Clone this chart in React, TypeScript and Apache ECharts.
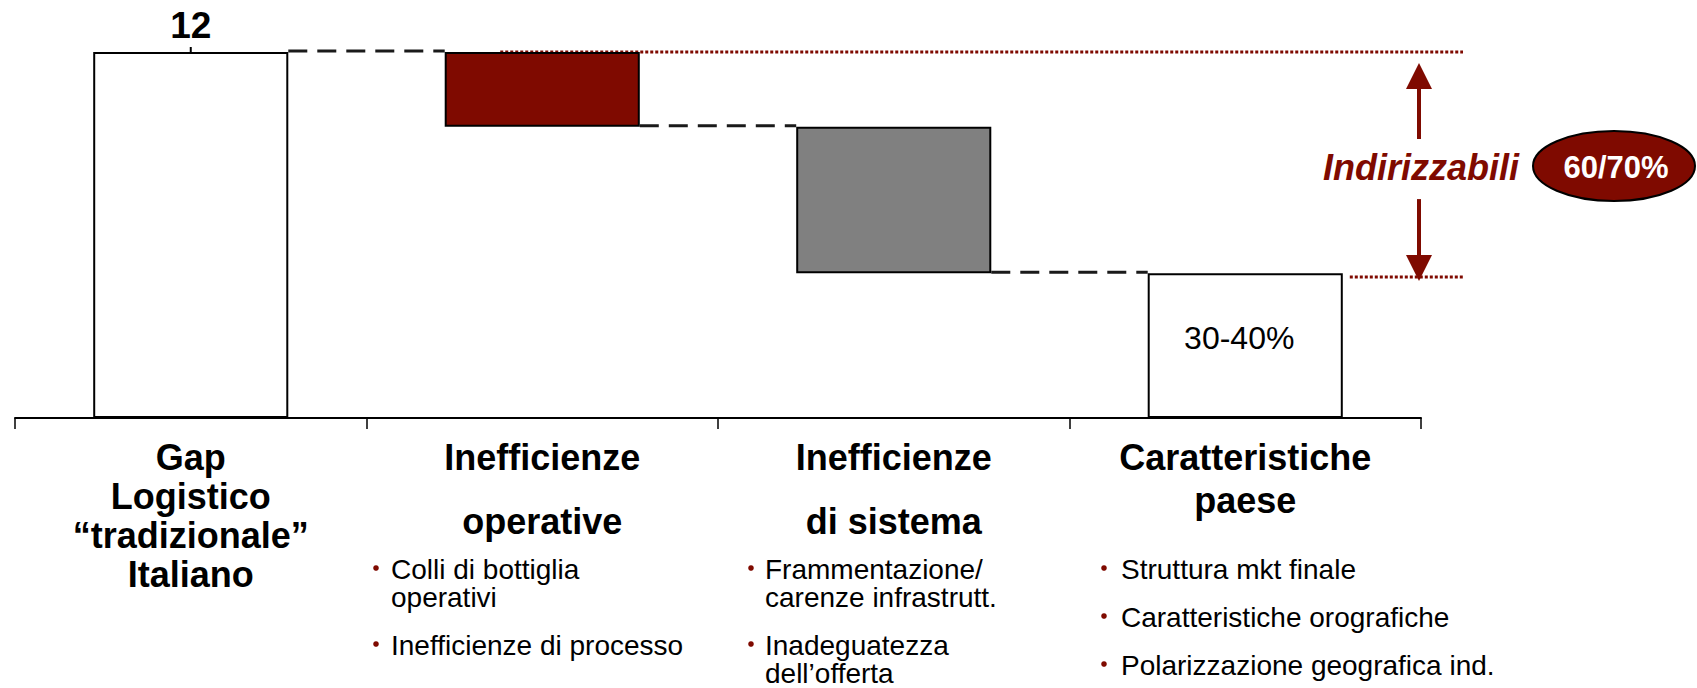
import { useEffect, useRef } from "react";
import * as echarts from "echarts";

// ---------- data ----------
const categories = [
  "Gap Logistico “tradizionale” Italiano",
  "Inefficienze operative",
  "Inefficienze di sistema",
  "Caratteristiche paese",
];
const categoryLabelLines = [
  ["Gap", "Logistico", "“tradizionale”", "Italiano"],
  ["Inefficienze", "operative"],
  ["Inefficienze", "di sistema"],
  ["Caratteristiche", "paese"],
];
const stepValues = [12, 2.45, 4.8, 4.75];
const stepKinds = ["total", "decrease", "decrease", "total"];
const totalLabel = "12";
const residualLabel = "30-40%";
const addressableLabel = "Indirizzabili";
const addressableShare = "60/70%";
const addressableBottomLevel = 4.62;
const bullets: string[][][] = [
  [],
  [["Colli di bottiglia", "operativi"], ["Inefficienze di processo"]],
  [["Frammentazione/", "carenze infrastrutt."], ["Inadeguatezza", "dell’offerta"]],
  [["Struttura mkt finale"], ["Caratteristiche orografiche"], ["Polarizzazione geografica ind."]],
];

// ---------- style / layout ----------
const DARK_RED = "#7f0a00";
const FONT = "'Liberation Sans', Arial, Helvetica, sans-serif";
const barColors = ["#ffffff", DARK_RED, "#808080", "#ffffff"];
const BAR_RATIO = 0.555;
const titleLineStyles = [
  ["t", "t", "t", "t"],
  ["t", "far"],
  ["t", "far"],
  ["t", "mid"],
];
const bulletTextX = [0, 391, 765, 1121];
const bulletDotX = [0, 376, 751, 1104];
const BULLET_TOP = 569;
const BULLET_LINE = 28;
const BULLET_GAP = 48;

// derived waterfall geometry (from data)
const bases: number[] = [];
{
  let level = 0;
  stepValues.forEach((v, i) => {
    if (stepKinds[i] === "total") {
      bases.push(0);
      level = v;
    } else {
      level = level - v;
      bases.push(level);
    }
  });
}
const connectorData = stepValues.slice(0, -1).map((v, i) => {
  const top = stepKinds[i] === "total" ? v : bases[i];
  return [i, top];
});

export default function App() {
  const ref = useRef<HTMLDivElement>(null);
  useEffect(() => {
    if (!ref.current) return;
    const chart = echarts.init(ref.current, null, { renderer: "svg" });

    const graphics: any[] = [];
    bullets.forEach((items, col) => {
      let y = BULLET_TOP;
      items.forEach((lines, k) => {
        if (k > 0) y += BULLET_GAP;
        graphics.push({
          type: "circle",
          shape: { cx: bulletDotX[col], cy: y - 1, r: 2.8 },
          style: { fill: DARK_RED },
        });
        lines.forEach((line, j) => {
          if (j > 0) y += BULLET_LINE;
          graphics.push({
            type: "text",
            style: {
              text: line,
              x: bulletTextX[col],
              y,
              font: `28px ${FONT}`,
              fill: "#000",
              align: "left",
              verticalAlign: "middle",
              textAlign: "left",
              textVerticalAlign: "middle",
            },
          });
        });
      });
    });
    graphics.push({
      type: "text",
      style: {
        text: addressableLabel,
        x: 1421,
        y: 167,
        font: `italic bold 36px ${FONT}`,
        fill: DARK_RED,
        align: "center",
        verticalAlign: "middle",
        textAlign: "center",
        textVerticalAlign: "middle",
      },
    });
    graphics.push({
      type: "ellipse",
      shape: { cx: 1614, cy: 166, rx: 81, ry: 35 },
      style: { fill: DARK_RED, stroke: "#000", lineWidth: 2 },
    });
    graphics.push({
      type: "text",
      style: {
        text: addressableShare,
        x: 1616,
        y: 167,
        font: `bold 31px ${FONT}`,
        fill: "#fff",
        align: "center",
        verticalAlign: "middle",
        textAlign: "center",
        textVerticalAlign: "middle",
      },
    });

    const option: any = {
      animation: false,
      backgroundColor: "#ffffff",
      grid: { left: 15, right: 276, top: 52, bottom: 270, containLabel: false },
      xAxis: {
        type: "category",
        data: categories,
        boundaryGap: true,
        axisLine: { lineStyle: { color: "#000", width: 2 } },
        axisTick: { show: true, length: 11, lineStyle: { color: "#000", width: 1.5 } },
        axisLabel: {
          interval: 0,
          margin: 20,
          color: "#000",
          fontFamily: FONT,
          formatter: (_v: string, idx: number) =>
            categoryLabelLines[idx]
              .map((l, j) => `{${titleLineStyles[idx][j]}|${l}}`)
              .join("\n"),
          rich: {
            t: { fontSize: 36, fontWeight: "bold", lineHeight: 39, color: "#000", fontFamily: FONT },
            far: { fontSize: 36, fontWeight: "bold", lineHeight: 89, color: "#000", fontFamily: FONT },
            mid: { fontSize: 36, fontWeight: "bold", lineHeight: 47, color: "#000", fontFamily: FONT },
          },
        },
      },
      yAxis: {
        type: "value",
        min: 0,
        max: 12,
        show: false,
        splitLine: { show: false },
      },
      series: [
        {
          type: "bar",
          stack: "w",
          silent: true,
          barWidth: `${BAR_RATIO * 100}%`,
          itemStyle: { color: "transparent", borderWidth: 0 },
          data: bases,
        },
        {
          type: "bar",
          stack: "w",
          barWidth: `${BAR_RATIO * 100}%`,
          data: stepValues.map((v, i) => {
            const item: any = {
              value: v,
              itemStyle: { color: barColors[i], borderColor: "#000", borderWidth: 2 },
            };
            if (i === 0) {
              item.label = {
                show: true,
                position: "top",
                distance: 8,
                formatter: totalLabel,
                fontSize: 37,
                fontWeight: "bold",
                color: "#000",
                fontFamily: FONT,
              };
            }
            if (i === stepValues.length - 1) {
              item.label = {
                show: true,
                position: "inside",
                offset: [-6, -8],
                formatter: residualLabel,
                fontSize: 32,
                color: "#000",
                fontFamily: FONT,
              };
            }
            return item;
          }),
        },
        // dashed connectors between bars
        {
          type: "custom",
          clip: false,
          silent: true,
          data: connectorData,
          renderItem: (_p: any, api: any) => {
            const pt = api.coord([api.value(0), api.value(1)]);
            const band = api.size([1, 0])[0];
            const half = (band * BAR_RATIO) / 2;
            return {
              type: "line",
              shape: { x1: pt[0] + half, y1: pt[1] - 1, x2: pt[0] + band - half, y2: pt[1] - 1 },
              style: { stroke: "#1a1a1a", lineWidth: 3, lineDash: [19, 10] },
            };
          },
        },
        // tick on top of total bar
        {
          type: "custom",
          clip: false,
          silent: true,
          data: [[0, stepValues[0]]],
          renderItem: (_p: any, api: any) => {
            const pt = api.coord([api.value(0), api.value(1)]);
            return {
              type: "line",
              shape: { x1: pt[0], y1: pt[1] - 5, x2: pt[0], y2: pt[1] + 15 },
              style: { stroke: "#000", lineWidth: 2 },
            };
          },
        },
        // dotted reference lines + arrows
        {
          type: "custom",
          clip: false,
          silent: true,
          data: [[3, stepValues[0], addressableBottomLevel]],
          renderItem: (_p: any, api: any) => {
            const band = api.size([1, 0])[0];
            const half = (band * BAR_RATIO) / 2;
            const top = api.coord([1, api.value(1)]);
            const last = api.coord([3, api.value(1)]);
            const bot = api.coord([3, api.value(2)]);
            const xEnd = last[0] + band / 2 + 42;
            const ax = last[0] + band / 2 - 2;
            const ty = top[1];
            const by = bot[1];
            const dot = { stroke: DARK_RED, lineWidth: 3, lineDash: [3, 2] };
            return {
              type: "group",
              children: [
                { type: "line", shape: { x1: top[0] - 42, y1: ty, x2: xEnd, y2: ty }, style: dot },
                { type: "line", shape: { x1: last[0] + half + 7, y1: by, x2: xEnd, y2: by }, style: dot },
                { type: "line", shape: { x1: ax, y1: ty + 30, x2: ax, y2: ty + 87 }, style: { stroke: DARK_RED, lineWidth: 4 } },
                { type: "polygon", shape: { points: [[ax, ty + 11], [ax - 13, ty + 37], [ax + 13, ty + 37]] }, style: { fill: DARK_RED } },
                { type: "line", shape: { x1: ax, y1: by - 78, x2: ax, y2: by - 20 }, style: { stroke: DARK_RED, lineWidth: 4 } },
                { type: "polygon", shape: { points: [[ax, by + 4], [ax - 13, by - 22], [ax + 13, by - 22]] }, style: { fill: DARK_RED } },
              ],
            };
          },
        },
      ],
      graphic: graphics,
    };
    chart.setOption(option);
    return () => chart.dispose();
  }, []);
  return (
    <div
      ref={ref}
      style={{ position: "absolute", left: 0, top: 0, width: 1697, height: 688, background: "#fff" }}
    />
  );
}
